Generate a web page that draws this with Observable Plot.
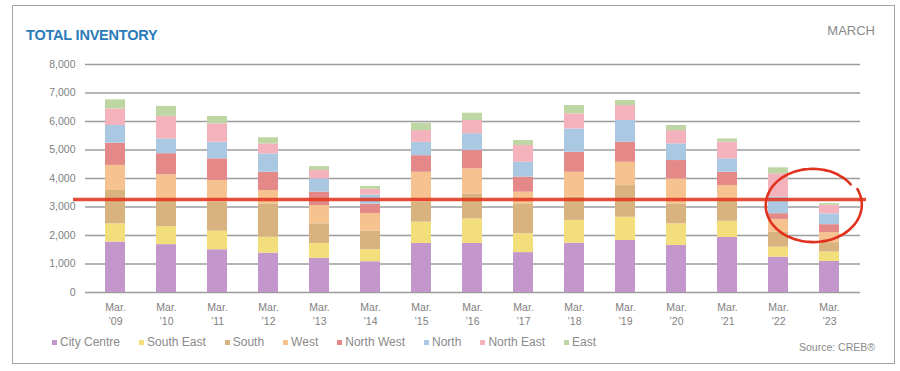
<!DOCTYPE html>
<html>
<head>
<meta charset="utf-8">
<script src="https://cdn.jsdelivr.net/npm/d3@7"></script>
<script src="https://cdn.jsdelivr.net/npm/@observablehq/plot@0.6"></script>
<style>
  body { margin: 0; background: #fff; font-family: "Liberation Sans", Arial, sans-serif; }
  #wrap { position: relative; width: 900px; height: 371px; overflow: hidden; background: #fff; }
  #frame { position: absolute; left: 12px; top: 5px; width: 883px; height: 359px; border: 1px solid #a3a3a3; box-sizing: border-box; }
  #title { position: absolute; left: 26px; top: 27px; font-size: 14.5px; font-weight: bold; color: #2b7bb9; letter-spacing: -0.2px; }
  #month { position: absolute; right: 25px; top: 23px; font-size: 13px; color: #8a8a8a; }
  #chart { position: absolute; left: 0; top: 50px; }
  #legend { position: absolute; left: 52px; top: 335px; display: flex; font-size: 12px; color: #8a8a8a; }
  #legend .item { display: flex; align-items: center; margin-right: 19px; }
  #legend .sw { width: 5px; height: 5px; margin-right: 3px; }
  #source { position: absolute; right: 25px; top: 341px; font-size: 10.5px; color: #8a8a8a; }
</style>
</head>
<body>
<div id="wrap">
  <div id="frame"></div>
  <div id="title">TOTAL INVENTORY</div>
  <div id="month">MARCH</div>
  <div id="chart"></div>
  <div id="legend"></div>
  <div id="source">Source: CREB®</div>
</div>
<script>
// Months on the x axis (March of each year)
const periods = ["Mar. ’09", "Mar. ’10", "Mar. ’11", "Mar. ’12", "Mar. ’13", "Mar. ’14", "Mar. ’15",
  "Mar. ’16", "Mar. ’17", "Mar. ’18", "Mar. ’19", "Mar. ’20", "Mar. ’21", "Mar. ’22", "Mar. ’23"];

// Districts, stacked from the bottom up
const regions = ["City Centre", "South East", "South", "West", "North West", "North", "North East", "East"];
const regionColors = ["#c397cb", "#f2df7c", "#d8b27f", "#f6c28f", "#e48888", "#abc8e2", "#f4b2bc", "#bdd6a4"];

// Inventory per district, one value per March
const cityCentre = [1770, 1680, 1500, 1380, 1200, 1080, 1720, 1720, 1400, 1730, 1825, 1650, 1930, 1240, 1090];
const southEast  = [ 640,  630,  650,  560,  520,  420,  750,  860,  660,  800,  815,  760,  570,  350,  330];
const south      = [1170,  950, 1020, 1170,  690,  650,  700,  880, 1050,  810, 1110,  700,  730,  525,  330];
const west       = [ 880,  870,  760,  470,  640,  620, 1050,  880,  410,  880,  820,  880,  520,  450,  350];
const northWest  = [ 780,  740,  760,  640,  470,  330,  580,  640,  530,  700,  700,  640,  470,  200,  280];
const north      = [ 620,  520,  585,  645,  470,  320,  470,  590,  520,  820,  765,  585,  470,  580,  380];
const northEast  = [ 580,  790,  645,  350,  290,  200,  410,  465,  590,  530,  525,  465,  585,  820,  300];
const east       = [ 320,  350,  255,  215,  140,  100,  260,  255,  170,  290,  180,  180,  115,  210,   60];

const yTicks = [0, 1000, 2000, 3000, 4000, 5000, 6000, 7000, 8000];

// Hand-drawn highlight: horizontal level and the loop around the latest month
const highlightLevel = 3260;
const highlightPeriod = "Mar. ’23";
const highlightValue = 3050;

const series = [cityCentre, southEast, south, west, northWest, north, northEast, east];
const table = [];
periods.forEach((p, i) => {
  regions.forEach((r, j) => table.push({period: p, region: r, value: series[j][i]}));
});

const textColor = "#7f7f7f";

const chart = Plot.plot({
  width: 900,
  height: 282,
  marginTop: 14,
  marginBottom: 40,
  marginLeft: 85,
  marginRight: 40,
  style: {fontFamily: "'Liberation Sans', Arial, sans-serif", background: "transparent"},
  x: {domain: periods, paddingInner: 0.6, paddingOuter: 0.32, label: null},
  y: {domain: [0, 8000], label: null},
  color: {domain: regions, range: regionColors},
  marks: [
    Plot.ruleY(yTicks, {stroke: "#9c9c9c", strokeWidth: 1.3}),
    Plot.barY(table, {x: "period", y: "value", fill: "region", order: regions}),
    Plot.axisY({
      ticks: yTicks, tickSize: 0, tickPadding: 10, fontSize: 10.5, fill: textColor,
      tickFormat: d3.format(",")
    }),
    Plot.axisX({
      tickSize: 0, tickPadding: 9, fontSize: 10.5, fill: textColor, lineHeight: 1.3,
      tickFormat: d => d.replace(" ", "\n")
    }),
    Plot.ruleY([highlightLevel], {stroke: "#e23a22", strokeWidth: 3.5, strokeOpacity: 0.9, insetLeft: -12, insetRight: -6})
  ]
});
document.getElementById("chart").appendChild(chart);

// Loop around the latest month, placed with the chart's own scales
const xs = chart.scale("x"), ys = chart.scale("y");
const cx = xs.apply(highlightPeriod) + xs.bandwidth / 2 - 16;
const cy = ys.apply(highlightValue);
const pts = [];
for (let a = -35; a >= -385; a -= 5) {
  const t = (a + 35) / -350;
  const rx = 46 + 3 * t, ry = 36 + 1.5 * t;
  const rad = a * Math.PI / 180;
  pts.push([cx + rx * Math.cos(rad), cy + ry * Math.sin(rad)]);
}
d3.select(chart).append("path")
  .attr("d", d3.line().curve(d3.curveCatmullRom)(pts))
  .attr("fill", "none")
  .attr("stroke", "#e0321e")
  .attr("stroke-width", 2.6)
  .attr("stroke-linecap", "round");

// Legend
const legend = d3.select("#legend");
regions.forEach((r, i) => {
  const item = legend.append("div").attr("class", "item");
  item.append("div").attr("class", "sw").style("background", regionColors[i]);
  item.append("span").text(r);
});
</script>
</body>
</html>
